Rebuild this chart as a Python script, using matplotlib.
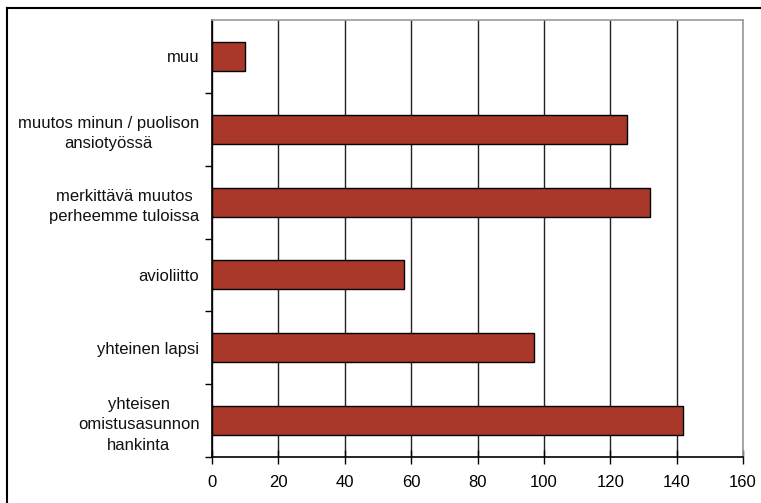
import matplotlib.pyplot as plt
from matplotlib.lines import Line2D

# Data (bottom to top)
categories = [
    "yhteisen\nomistusasunnon\nhankinta",
    "yhteinen lapsi",
    "avioliitto",
    "merkittävä muutos\nperheemme tuloissa",
    "muutos minun / puolison\nansiotyössä",
    "muu",
]
values = [142, 97, 58, 132, 125, 10]
xticks = [0, 20, 40, 60, 80, 100, 120, 140, 160]

plt.rcParams['font.family'] = ['Liberation Sans', 'DejaVu Sans']

fig = plt.figure(figsize=(7.61, 5.03), dpi=100)
ax = fig.add_axes([212 / 761, 1 - 457 / 503, (743 - 212) / 761, (457 - 20) / 503])

pos = list(range(len(categories)))
ax.barh(pos, values, height=0.4, color="#a9372a", edgecolor="black",
        linewidth=1, zorder=3)

ax.set_xlim(0, 160)
ax.set_ylim(-0.5, len(categories) - 0.5)
ax.set_xticks(xticks)
ax.set_xticklabels([str(t) for t in xticks], fontsize=12)

# category labels in middle, ticks at boundaries
ax.set_yticks(pos)
ax.set_yticklabels(categories, fontsize=12, multialignment="center",
                   linespacing=1.45, color="#111111")
ax.tick_params(axis="y", which="major", length=0, pad=9)
ax.set_yticks([p + 0.5 for p in pos[:-1]] + [-0.5], minor=True)
ax.tick_params(axis="y", which="minor", length=5, width=1, direction="out",
               color="black")
ax.tick_params(axis="x", length=10, width=1, direction="inout", pad=8,
               color="black")

ax.grid(axis="x", color="#222222", linewidth=1, zorder=0)
ax.set_axisbelow(True)

for side in ["left", "bottom"]:
    ax.spines[side].set_color("black")
    ax.spines[side].set_linewidth(1.2)
for side in ["top", "right"]:
    ax.spines[side].set_color("#999999")
    ax.spines[side].set_linewidth(1.2)

# outer frame (top and left edges visible)
fig.add_artist(Line2D([7 / 761, 1], [1 - 7.5 / 503, 1 - 7.5 / 503],
                      transform=fig.transFigure, color="black", linewidth=1.5))
fig.add_artist(Line2D([7 / 761, 7 / 761], [0, 1 - 7.5 / 503],
                      transform=fig.transFigure, color="black", linewidth=1.5))

fig.savefig("out.png", dpi=100, facecolor="white")
